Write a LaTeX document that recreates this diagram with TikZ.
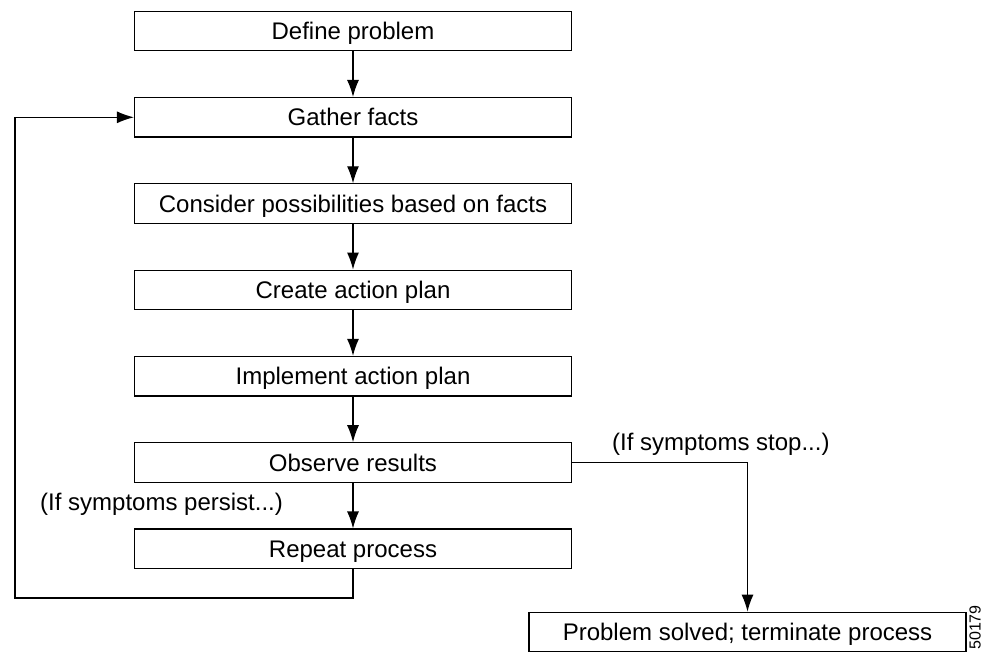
\documentclass[tikz,border=0pt]{standalone}
\usepackage{fontspec}
\setmainfont{Liberation Sans}
\usetikzlibrary{arrows.meta}
\tikzset{
  stepbox/.style={draw=black, line width=1.2pt, minimum width=437pt, minimum height=39.5pt, inner sep=0pt, text height=17.2pt, text depth=0pt, font=\fontsize{24}{28}\selectfont},
  conn/.style={line width=1.2pt, -{Latex[length=17pt,width=12pt]}},
  lbl/.style={font=\fontsize{24}{28}\selectfont, inner sep=0pt},
}
\begin{document}
\begin{tikzpicture}[x=1pt,y=-1pt]
\useasboundingbox (0,0) rectangle (982,651);
\node[stepbox] (define) at (353,31) {Define problem};
\node[stepbox] (gather) at (353,117.3) {Gather facts};
\node[stepbox] (consider) at (353,203.6) {Consider possibilities based on facts};
\node[stepbox] (create) at (353,289.9) {Create action plan};
\node[stepbox] (implement) at (353,376.2) {Implement action plan};
\node[stepbox] (observe) at (353,462.5) {Observe results};
\node[stepbox] (repeat) at (353,548.8) {Repeat process};
\node[stepbox] (solved) at (747.5,632) {Problem solved; terminate process};
\coordinate (loopbr) at (353,598);
\coordinate (loopbl) at (15,598);
\coordinate (looptl) at (15,117.3);
\coordinate (stopr) at (747.5,462.5);
\draw[conn] (define) -- (gather);
\draw[conn] (gather) -- (consider);
\draw[conn] (consider) -- (create);
\draw[conn] (create) -- (implement);
\draw[conn] (implement) -- (observe);
\draw[conn] (observe) -- (repeat);
\draw[conn] (repeat.south) -- (loopbr) -- (loopbl) -- (looptl) -- (gather.west);
\draw[conn] (observe.east) -- (stopr) -- (solved.north);
\node[lbl, anchor=west] (persist) at (40,504) {(If symptoms persist...)};
\node[lbl, anchor=west] (stop) at (612,444) {(If symptoms stop...)};
\node[font=\fontsize{16}{18}\selectfont, rotate=90, anchor=east, inner sep=0pt] (fig) at (975,605) {50179};
\end{tikzpicture}
\end{document}
